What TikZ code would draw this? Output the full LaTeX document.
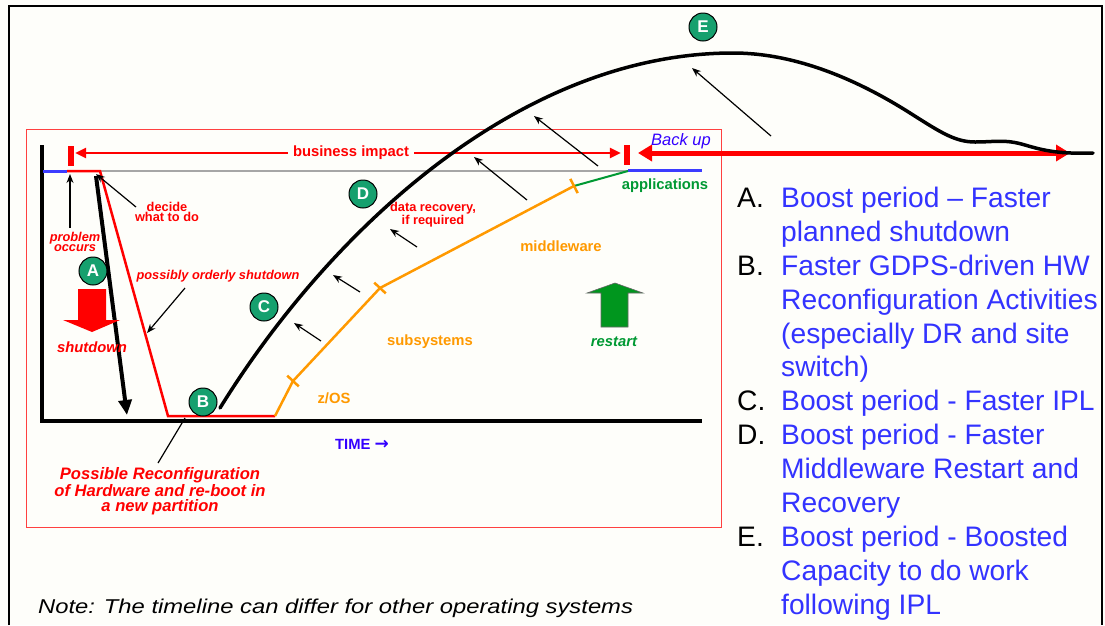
\documentclass[tikz,border=0pt]{standalone}
\usepackage{fontspec}
\setmainfont{Liberation Sans}
\newfontfamily\dejavu{DejaVu Sans}
\usetikzlibrary{arrows.meta}
\definecolor{bg}{RGB}{254,254,250}
\definecolor{cgreen}{RGB}{22,160,110}
\definecolor{corange}{RGB}{255,153,0}
\definecolor{cgreenl}{RGB}{0,153,51}
\definecolor{cblue}{RGB}{60,60,255}
\definecolor{tblue}{RGB}{51,51,255}
\definecolor{timeblue}{RGB}{51,0,255}
\definecolor{crest}{RGB}{0,150,30}
\tikzset{
  lblb/.style={inner sep=0pt, align=center, font=\bfseries\fontsize{14.8}{17}\selectfont},
  lbls/.style={inner sep=0pt, align=center, text=red, font=\bfseries\fontsize{12.8}{10.6}\selectfont},
  lblsi/.style={inner sep=0pt, align=center, text=red, font=\bfseries\itshape\fontsize{12.8}{10.6}\selectfont},
  circ/.style={circle, draw=black, line width=1pt, fill=cgreen, minimum size=28pt, inner sep=0pt,
    text=white, font=\bfseries\fontsize{17}{17}\selectfont},
  ptr/.style={black, line width=1.2pt, -{Stealth[length=9pt,width=7pt]}},
  bar/.style={rectangle, fill=red, minimum width=6pt, minimum height=20pt, inner sep=0pt},
  biarr/.style={red, line width=2.5pt, -{Triangle[length=11pt,width=10pt]}},
  buarr/.style={red, line width=5pt, {Triangle[length=14pt,width=16pt]}-{Triangle[length=14pt,width=16pt]}},
  tick/.style={corange, line width=2.5pt},
  listt/.style={anchor=base west, inner sep=0pt, text=tblue, font=\fontsize{28.2}{32}\selectfont},
  listl/.style={anchor=base west, inner sep=0pt, text=black, font=\fontsize{28.2}{32}\selectfont},
}
\begin{document}
\begin{tikzpicture}[x=1pt,y=-1pt]
\useasboundingbox[fill=bg] (0,0) rectangle (1105,625);
% outer frame
\draw[line width=1.5pt] (9,625) -- (9,6) -- (1102,6) -- (1102,625);
% red inner frame
\draw[red!75, line width=1pt] (26,129) rectangle (721,527);
% axes
\draw[line width=4pt, line join=miter] (42,145) -- (42,421) -- (702,421);
% baseline levels
\draw[gray!70, line width=1.2pt] (67,171) -- (628,171);
\draw[cblue, line width=3pt] (43,171) -- (67,171);
\draw[cblue, line width=3pt] (628,170) -- (702,170);
% red outage path
\draw[red, line width=2.5pt, line join=miter] (67,171) -- (100,171) -- (168,416) -- (275,416);
% orange restart path
\draw[corange, line width=2.5pt, line join=round] (275,416) -- (293,381) -- (380,288) -- (574,186);
\draw[cgreenl, line width=2pt] (574,186) -- (628,171);
\draw[tick] (287.2,375.6) -- (298.8,386.4);
\draw[tick] (374.2,282.6) -- (385.8,293.4);
\draw[tick] (570.3,178.9) -- (577.7,193.1);
% business impact
\node[bar] (barL) at (71,156) {};
\node[bar] (barR) at (627,155) {};
\node[lblb, text=red, inner xsep=5pt] (bi) at (351,153) {business impact};
\draw[biarr] (bi.west) -- ([xshift=1pt]barL.east |- bi.west);
\draw[biarr] (bi.east) -- ([xshift=-3pt]barR.west |- bi.east);
% back up arrow
\coordinate (buL) at (638,153);
\coordinate (buR) at (1070,153);
\draw[buarr] (buL) -- (buR);
\node[inner sep=0pt, text=timeblue, font=\itshape\fontsize{16.5}{18}\selectfont] (backup) at (681,141) {Back up};
% big boost curve
\draw[line width=3.5pt, line cap=round] (220,408)
  .. controls (330,230) and (520,53) .. (733,53)
  .. controls (790,53) and (850,75) .. (910,113)
  .. controls (940,132) and (955,142) .. (975,142)
  .. controls (995,142) and (1005,139) .. (1025,145)
  .. controls (1045,151) and (1060,154) .. (1093,153);
% boost arrows
\draw[ptr] (771,136) -- (692,68);
\draw[ptr] (598,166) -- (534,116);
\draw[ptr] (527,200) -- (474,157);
\draw[ptr] (417,247) -- (390,229);
\draw[ptr] (360,292) -- (333,275);
\draw[ptr] (321,341) -- (294,323);
% shutdown big arrow
\draw[line width=4pt, -{Triangle[length=15pt,width=13pt]}] (96,176) -- (127,415);
% red block arrow (shutdown)
\fill[red] (78,289) -- (106,289) -- (106,320) -- (120,320) -- (92,332) -- (63,320) -- (78,320) -- cycle;
% green block arrow (restart)
\filldraw[fill=crest, draw=black!60, line width=0.6pt] (601,327) -- (628,327) -- (628,293) -- (643,293) -- (615,283) -- (587,293) -- (601,293) -- cycle;
% labels
\node[lblsi] (prob) at (75,242) {problem\\occurs};
\draw[ptr] (70,228) -- (70,174);
\node[lbls] (decide) at (167,212) {decide\\what to do};
\draw[ptr] (136,207) -- (96,174);
\node[lblsi] (pos) at (218,276) {possibly orderly shutdown};
\draw[ptr] (185,288) -- (147,333);
\node[inner sep=0pt, text=red, font=\bfseries\itshape\fontsize{14.8}{17}\selectfont] (sd) at (92,347) {shutdown};
\node[inner sep=0pt, align=center, text=red, font=\bfseries\itshape\fontsize{16.6}{15}\selectfont] (reconf) at (160,491)
  {Possible Reconfiguration\\of Hardware and re-boot in\\a new partition};
\draw[black, line width=1.2pt] (158,463) -- (185,418);
\node[lbls] (data) at (433,215) {data recovery,\\if required};
\node[lblb, text=corange] (mw) at (561,246) {middleware};
\node[lblb, text=cgreenl] (app) at (665,186) {applications};
\node[lblb, text=corange] (sub) at (430,342) {subsystems};
\node[lblb, text=corange] (zos) at (334,398) {z/OS};
\node[lblb, text=cgreenl, font=\bfseries\itshape\fontsize{14.8}{17}\selectfont] (rest) at (614,342) {restart};
\node[lblb, text=timeblue] (time) at (362,444) {TIME {\dejavu\bfseries\fontsize{17}{17}\selectfont →}};
% circles
\node[circ] (A) at (93,271) {A};
\node[circ] (B) at (203,402) {B};
\node[circ] (C) at (264,307) {C};
\node[circ] (D) at (363,194) {D};
\node[circ] (E) at (703,27) {E};
% list
\node[listl] at (737,207) {A.};
\node[listt] at (781,207) {Boost period – Faster};
\node[listt] at (781,241) {planned shutdown};
\node[listl] at (737,275) {B.};
\node[listt] at (781,275) {Faster GDPS-driven HW};
\node[listt] at (781,309) {Reconfiguration Activities};
\node[listt] at (781,343) {(especially DR and site};
\node[listt] at (781,376) {switch)};
\node[listl] at (737,410) {C.};
\node[listt] at (781,410) {Boost period - Faster IPL};
\node[listl] at (737,444) {D.};
\node[listt] at (781,444) {Boost period - Faster};
\node[listt] at (781,478) {Middleware Restart and};
\node[listt] at (781,512) {Recovery};
\node[listl] at (737,546) {E.};
\node[listt] at (781,546) {Boost period - Boosted};
\node[listt] at (781,580) {Capacity to do work};
\node[listt] at (781,614) {following IPL};
% note
\node[anchor=base west, inner sep=0pt, font=\itshape\fontsize{20}{22}\selectfont] (note) at (38,613)
  {\scalebox{1.19}[1]{Note: The timeline can differ for other operating systems}};
\end{tikzpicture}
\end{document}
